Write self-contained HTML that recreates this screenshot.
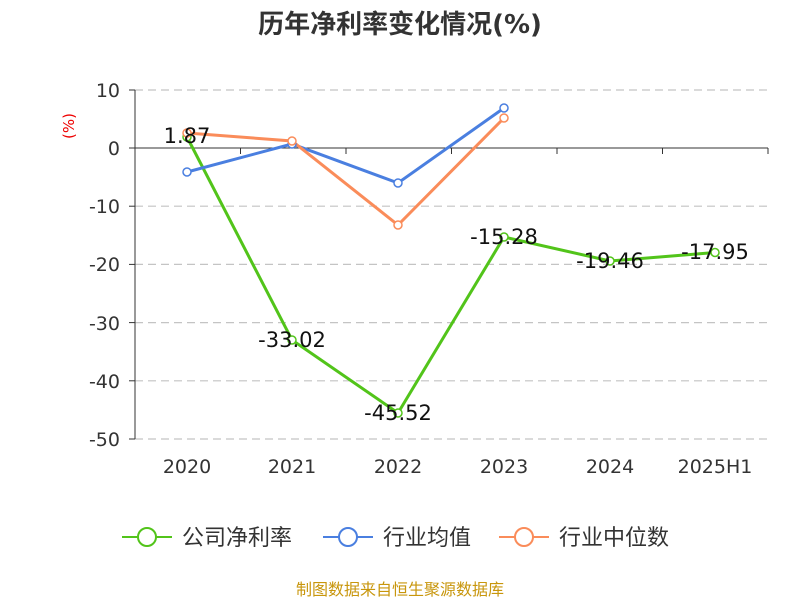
<!DOCTYPE html>
<html><head><meta charset="utf-8"><style>
body{margin:0;background:#fff;}
svg text{font-family:"DejaVu Sans","Noto Sans CJK SC",sans-serif;}
</style></head><body>
<svg width="800" height="600" xmlns="http://www.w3.org/2000/svg">
<text x="400" y="33" text-anchor="middle" font-size="26" font-weight="bold" fill="#333" font-family="Liberation Sans, Noto Sans CJK SC, sans-serif">历年净利率变化情况(%)</text>
<g stroke="#c4c4c4" stroke-dasharray="8,5" stroke-width="1.2">
<line x1="135" y1="90" x2="768" y2="90"/>
<line x1="135" y1="206.2" x2="768" y2="206.2"/>
<line x1="135" y1="264.4" x2="768" y2="264.4"/>
<line x1="135" y1="322.6" x2="768" y2="322.6"/>
<line x1="135" y1="380.8" x2="768" y2="380.8"/>
<line x1="135" y1="439" x2="768" y2="439"/>
</g>
<g stroke="#333" stroke-width="1">
<line x1="135" y1="90" x2="135" y2="439"/>
<line x1="135" y1="148" x2="768" y2="148"/>
<line x1="129" y1="90" x2="135" y2="90"/><line x1="129" y1="148" x2="135" y2="148"/>
<line x1="129" y1="206.2" x2="135" y2="206.2"/><line x1="129" y1="264.4" x2="135" y2="264.4"/>
<line x1="129" y1="322.6" x2="135" y2="322.6"/><line x1="129" y1="380.8" x2="135" y2="380.8"/>
<line x1="129" y1="439" x2="135" y2="439"/>
<line x1="135" y1="148" x2="135" y2="154"/><line x1="240.5" y1="148" x2="240.5" y2="154"/>
<line x1="346" y1="148" x2="346" y2="154"/><line x1="451.5" y1="148" x2="451.5" y2="154"/>
<line x1="557" y1="148" x2="557" y2="154"/><line x1="662.5" y1="148" x2="662.5" y2="154"/>
<line x1="768" y1="148" x2="768" y2="154"/>
</g>
<g font-size="19" fill="#333" text-anchor="end">
<text x="120" y="97">10</text><text x="120" y="155">0</text><text x="120" y="213">-10</text>
<text x="120" y="271">-20</text><text x="120" y="330">-30</text><text x="120" y="388">-40</text><text x="120" y="446">-50</text>
</g>
<text x="74" y="126" font-size="15" fill="#e00" text-anchor="middle" transform="rotate(-90 74 126)">(%)</text>
<g font-size="19" fill="#333" text-anchor="middle">
<text x="187" y="473">2020</text><text x="292" y="473">2021</text><text x="398" y="473">2022</text>
<text x="504" y="473">2023</text><text x="610" y="473">2024</text><text x="715" y="473">2025H1</text>
</g>
<polyline fill="none" stroke="#52c41a" stroke-width="3" points="187,137 292,340 398,413 504,237 610,261 715,252.5"/>
<polyline fill="none" stroke="#4a7fe0" stroke-width="3" points="187,172 292,144 398,183 504,108"/>
<polyline fill="none" stroke="#fa8c5a" stroke-width="3" points="187,133 292,141 398,225 504,118"/>
<g fill="#fff" stroke-width="1.5">
<g stroke="#52c41a"><circle cx="187" cy="137" r="4"/><circle cx="292" cy="340" r="4"/><circle cx="398" cy="413" r="4"/><circle cx="504" cy="237" r="4"/><circle cx="610" cy="261" r="4"/><circle cx="715" cy="252.5" r="4"/></g>
<g stroke="#4a7fe0"><circle cx="187" cy="172" r="4"/><circle cx="292" cy="144" r="4"/><circle cx="398" cy="183" r="4"/><circle cx="504" cy="108" r="4"/></g>
<g stroke="#fa8c5a"><circle cx="187" cy="133" r="4"/><circle cx="292" cy="141" r="4"/><circle cx="398" cy="225" r="4"/><circle cx="504" cy="118" r="4"/></g>
</g>
<g font-size="21" fill="#111" text-anchor="middle">
<text x="187" y="143">1.87</text><text x="292" y="347">-33.02</text><text x="398" y="420">-45.52</text>
<text x="504" y="244">-15.28</text><text x="610" y="268">-19.46</text><text x="715" y="259">-17.95</text>
</g>
<g stroke-width="2" fill="#fff">
<line x1="122" y1="537" x2="172" y2="537" stroke="#52c41a"/><circle cx="147" cy="537" r="9" stroke="#52c41a"/>
<line x1="323" y1="537" x2="373" y2="537" stroke="#4a7fe0"/><circle cx="348" cy="537" r="9" stroke="#4a7fe0"/>
<line x1="499" y1="537" x2="549" y2="537" stroke="#fa8c5a"/><circle cx="524" cy="537" r="9" stroke="#fa8c5a"/>
</g>
<g font-size="22" fill="#333">
<text x="182" y="545">公司净利率</text><text x="383" y="545">行业均值</text><text x="559" y="545">行业中位数</text>
</g>
<text x="400" y="595" text-anchor="middle" font-size="16" fill="#c8960c">制图数据来自恒生聚源数据库</text>
</svg>
</body></html>
